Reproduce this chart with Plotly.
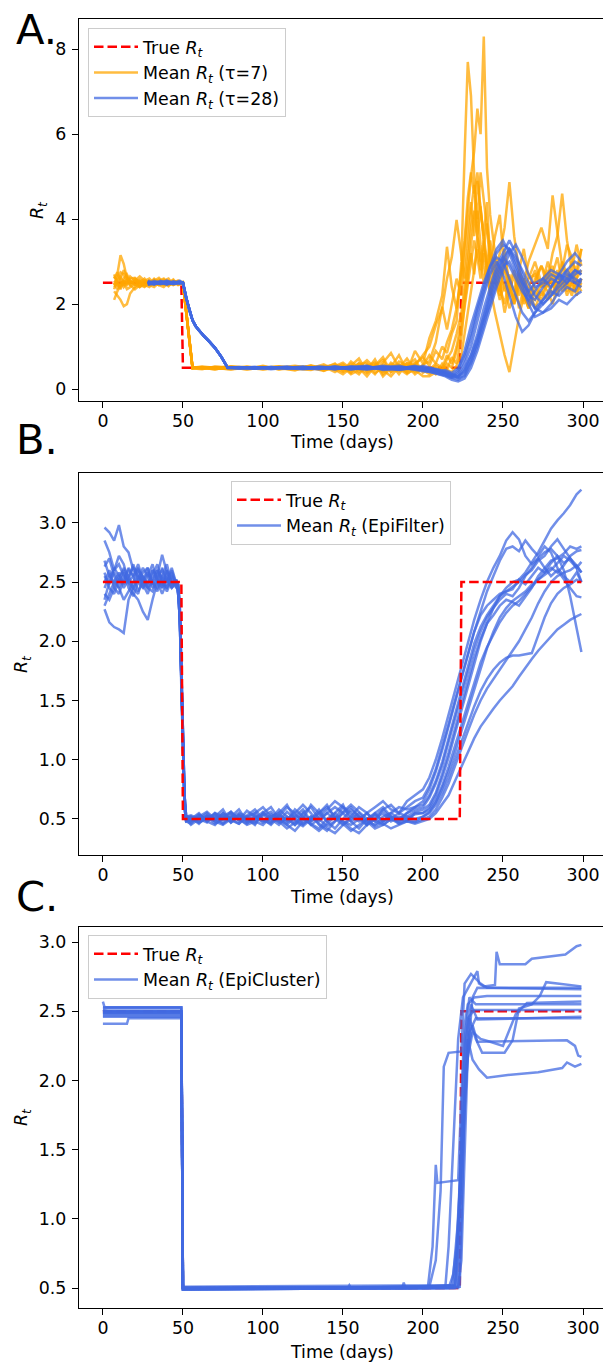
import plotly.graph_objects as go

# ---------------- data ----------------
TRUE_DAYS = [0, 49, 50, 223, 224, 299]
TRUE_RT = [2.5, 2.5, 0.5, 0.5, 2.5, 2.5]

# Panel A: tau = 7
TAU7_DAYS = [7, 9, 11, 13, 15, 17, 20, 23, 26, 29, 32, 35, 38, 41, 44, 47, 50,
             56,
             62, 70, 80, 90, 100, 110, 120, 130, 138, 145,
             150, 155, 160, 165, 170, 175, 180, 185, 190, 195, 200,
             204, 208, 212, 215, 218, 221, 224, 226, 228, 230, 232, 234, 236, 238, 240, 242,
             245, 248, 251, 254, 257, 260, 263, 266,
             270, 274, 278, 281, 284, 287, 290, 293, 296, 299]

TAU7_RUN1 = [2.45, 2.70, 3.15, 2.95, 2.60, 2.50, 2.55, 2.40, 2.48, 2.55, 2.50, 2.45, 2.52, 2.50, 2.55, 2.48, 2.50,
             0.50,
             0.52, 0.48, 0.50, 0.53, 0.47, 0.51, 0.55, 0.49, 0.58, 0.45,
             0.55, 0.38, 0.62, 0.45, 0.70, 0.35, 0.52, 0.80, 0.42, 0.60, 0.75,
             0.55, 0.90, 0.70, 1.10, 1.40, 1.90, 2.60, 3.40, 4.20, 5.00, 5.60, 6.60, 6.00, 8.30, 5.20, 4.10,
             3.20, 2.60, 3.30, 2.40, 2.10, 2.80, 2.30, 2.00,
             2.60, 2.90, 2.40, 2.70, 3.10, 2.50, 2.60, 2.80, 2.40, 2.60]
TAU7_RUN2 = [2.30, 2.20, 2.10, 1.95, 2.00, 2.25, 2.40, 2.55, 2.45, 2.40, 2.52, 2.58, 2.48, 2.45, 2.50, 2.52, 2.48,
             0.49,
             0.47, 0.53, 0.51, 0.46, 0.52, 0.50, 0.44, 0.56, 0.48, 0.60,
             0.42, 0.65, 0.50, 0.30, 0.55, 0.68, 0.40, 0.50, 0.72, 0.45, 0.55,
             0.80, 0.60, 1.00, 0.85, 1.30, 1.60, 3.00, 5.50, 7.70, 6.90, 5.00, 3.60, 3.00, 3.50, 2.80, 2.20,
             3.00, 2.50, 1.80, 2.30, 2.70, 1.90, 2.40, 2.20,
             2.10, 2.50, 2.30, 2.00, 2.40, 2.60, 2.20, 2.50, 2.30, 2.50]
TAU7_RUN3 = [2.10, 2.30, 2.45, 2.60, 2.70, 2.55, 2.45, 2.50, 2.60, 2.45, 2.40, 2.50, 2.55, 2.60, 2.45, 2.50, 2.52,
             0.51,
             0.50, 0.46, 0.54, 0.50, 0.52, 0.47, 0.53, 0.50, 0.43, 0.55,
             0.62, 0.48, 0.35, 0.58, 0.45, 0.62, 0.85, 0.50, 0.40, 0.90, 0.60,
             1.20, 1.60, 2.20, 3.35, 2.40, 1.90, 2.80, 3.50, 4.50, 5.10, 4.60, 5.10, 4.20, 3.60, 4.40, 3.00,
             2.60, 2.20, 3.10, 2.50, 2.80, 2.20, 2.60, 2.40,
             2.80, 2.40, 2.70, 2.90, 2.30, 2.60, 2.40, 2.70, 2.50, 2.30]
TAU7_RUN4 = [2.60, 2.75, 2.55, 2.40, 2.50, 2.65, 2.55, 2.45, 2.40, 2.50, 2.58, 2.45, 2.50, 2.42, 2.55, 2.50, 2.50,
             0.48,
             0.51, 0.49, 0.47, 0.52, 0.50, 0.54, 0.48, 0.45, 0.55, 0.50,
             0.48, 0.55, 0.72, 0.40, 0.60, 0.45, 0.58, 0.35, 0.62, 0.55, 0.80,
             1.00, 1.50, 1.90, 2.60, 3.10, 3.98, 3.20, 2.60, 3.30, 4.20, 4.80, 4.00, 5.10, 4.50, 3.80, 2.90,
             3.60, 4.10, 2.80, 2.30, 2.00, 2.60, 2.20, 1.90,
             2.40, 2.20, 2.60, 2.50, 2.80, 2.30, 2.50, 2.20, 2.60, 2.80]
TAU7_RUN5 = [2.55, 2.45, 2.60, 2.80, 2.65, 2.45, 2.35, 2.45, 2.55, 2.60, 2.48, 2.45, 2.40, 2.50, 2.52, 2.55, 2.50,
             0.50,
             0.49, 0.52, 0.50, 0.48, 0.55, 0.46, 0.50, 0.53, 0.50, 0.47,
             0.50, 0.40, 0.58, 0.62, 0.38, 0.50, 0.45, 0.65, 0.55, 0.35, 0.50,
             0.40, 0.55, 0.45, 0.70, 0.90, 1.30, 1.80, 2.40, 3.00, 3.80, 4.20, 3.60, 4.30, 3.40, 2.90, 3.50,
             2.70, 3.20, 3.80, 4.87, 3.60, 2.80, 3.30, 2.60,
             3.00, 2.50, 2.80, 2.40, 2.60, 3.00, 2.70, 2.50, 2.80, 2.70]
TAU7_RUN6 = [2.40, 2.50, 2.35, 2.55, 2.45, 2.60, 2.62, 2.50, 2.42, 2.50, 2.55, 2.62, 2.50, 2.48, 2.45, 2.50, 2.47,
             0.50,
             0.53, 0.50, 0.46, 0.51, 0.49, 0.52, 0.50, 0.47, 0.52, 0.58,
             0.45, 0.60, 0.40, 0.52, 0.35, 0.58, 0.48, 0.42, 0.55, 0.70, 0.38,
             0.50, 0.35, 0.60, 0.45, 0.75, 0.60, 1.20, 2.00, 2.60, 3.40, 4.00, 4.90, 4.20, 3.60, 3.00, 2.40,
             1.80, 1.30, 0.80, 0.40, 1.10, 1.70, 2.20, 1.90,
             2.30, 2.10, 2.50, 2.20, 2.70, 2.40, 2.60, 2.30, 2.50, 2.40]
TAU7_RUN7 = [2.65, 2.55, 2.65, 2.50, 2.35, 2.40, 2.50, 2.58, 2.52, 2.45, 2.50, 2.48, 2.58, 2.52, 2.50, 2.45, 2.50,
             0.52,
             0.48, 0.51, 0.53, 0.50, 0.46, 0.50, 0.52, 0.48, 0.47, 0.52,
             0.58, 0.45, 0.52, 0.68, 0.50, 0.40, 0.62, 0.48, 0.35, 0.52, 0.45,
             0.35, 0.50, 0.40, 0.60, 0.50, 0.90, 1.40, 1.90, 2.50, 2.90, 3.50, 3.10, 2.60, 3.20, 2.80, 2.50,
             3.10, 2.40, 2.00, 2.60, 2.30, 2.80, 2.50, 3.00,
             3.40, 3.80, 3.30, 4.56, 3.70, 2.90, 2.60, 3.00, 2.80, 3.30]
TAU7_RUN8 = [2.35, 2.60, 2.75, 2.70, 2.50, 2.55, 2.45, 2.40, 2.50, 2.55, 2.45, 2.52, 2.45, 2.55, 2.50, 2.50, 2.52,
             0.49,
             0.50, 0.47, 0.52, 0.49, 0.53, 0.48, 0.51, 0.55, 0.44, 0.50,
             0.40, 0.52, 0.60, 0.45, 0.55, 0.75, 0.40, 0.58, 0.48, 0.62, 0.42,
             0.45, 0.60, 0.50, 0.80, 0.60, 1.00, 1.60, 2.20, 2.80, 3.20, 2.70, 3.60, 3.00, 2.50, 3.00, 2.20,
             2.60, 2.90, 2.30, 2.70, 2.00, 2.40, 2.60, 2.20,
             2.50, 2.90, 2.60, 3.20, 3.60, 4.60, 3.50, 2.80, 3.40, 2.90]
TAU7_RUN9 = [2.50, 2.35, 2.50, 2.45, 2.60, 2.50, 2.60, 2.52, 2.45, 2.48, 2.60, 2.50, 2.45, 2.50, 2.58, 2.45, 2.50,
             0.50,
             0.51, 0.49, 0.50, 0.47, 0.50, 0.53, 0.49, 0.51, 0.53, 0.40,
             0.52, 0.35, 0.45, 0.55, 0.62, 0.30, 0.50, 0.58, 0.38, 0.45, 0.30,
             0.30, 0.40, 0.35, 0.45, 0.40, 0.55, 0.80, 1.30, 1.80, 2.30, 2.80, 3.30, 2.80, 3.40, 3.90, 3.20,
             2.60, 2.10, 2.50, 1.90, 2.20, 2.60, 2.00, 2.40,
             1.90, 2.30, 2.10, 2.50, 2.20, 2.60, 2.30, 2.50, 2.20, 2.60]
TAU7_RUN10 = [2.70, 2.50, 2.40, 2.55, 2.50, 2.45, 2.55, 2.65, 2.55, 2.50, 2.45, 2.55, 2.60, 2.45, 2.50, 2.55, 2.49,
              0.51,
              0.49, 0.50, 0.48, 0.52, 0.51, 0.49, 0.46, 0.52, 0.50, 0.46,
              0.35, 0.50, 0.48, 0.38, 0.52, 0.45, 0.30, 0.52, 0.60, 0.40, 0.58,
              0.65, 1.10, 1.94, 1.40, 2.00, 2.60, 2.20, 3.00, 3.80, 4.40, 3.60, 4.20, 3.40, 2.90, 2.50, 3.20,
              2.70, 2.30, 2.90, 2.40, 2.10, 2.70, 2.40, 2.60,
              2.70, 2.40, 3.00, 2.60, 2.40, 2.80, 3.40, 3.10, 2.60, 3.30]

# Panel A: tau = 28
TAU28_DAYS = [28, 32, 36, 40, 44, 48,
              50, 52, 54, 56, 58, 60, 63, 66, 70, 74, 77, 78,
              85, 95, 105, 115, 125, 135, 145, 155, 165, 175, 185, 195,
              200, 205, 210, 214, 218, 222, 226, 230, 234, 238, 242, 246, 250, 254, 258, 262,
              266, 270, 275, 280, 285, 290, 295, 299]
TAU28_DECAY = [2.50, 2.15, 1.85, 1.62, 1.48, 1.38, 1.25, 1.14, 0.97, 0.76, 0.55, 0.50]

TAU28_RUN1 = [2.50, 2.52, 2.48, 2.55, 2.50, 2.52] + TAU28_DECAY + [
    0.50, 0.52, 0.49, 0.51, 0.48, 0.53, 0.50, 0.47, 0.52, 0.49, 0.45, 0.52,
    0.48, 0.42, 0.38, 0.35, 0.30, 0.40, 0.70, 1.20, 1.80, 2.30, 2.80, 3.20, 3.40, 3.30, 3.00, 2.60,
    2.20, 2.10, 2.40, 2.60, 2.50, 2.70, 2.60, 2.50]
TAU28_RUN2 = [2.45, 2.48, 2.52, 2.50, 2.47, 2.50] + TAU28_DECAY + [
    0.49, 0.50, 0.52, 0.48, 0.50, 0.51, 0.47, 0.53, 0.49, 0.55, 0.50, 0.48,
    0.52, 0.45, 0.40, 0.38, 0.32, 0.28, 0.45, 0.80, 1.30, 1.90, 2.40, 2.90, 3.20, 3.50, 3.20, 2.70,
    2.30, 1.90, 2.10, 2.40, 2.70, 2.60, 2.80, 2.70]
TAU28_RUN3 = [2.55, 2.50, 2.47, 2.50, 2.53, 2.49] + TAU28_DECAY + [
    0.51, 0.48, 0.50, 0.52, 0.49, 0.47, 0.53, 0.50, 0.46, 0.51, 0.55, 0.47,
    0.45, 0.50, 0.42, 0.40, 0.35, 0.25, 0.30, 0.60, 1.00, 1.50, 2.10, 2.60, 3.00, 3.30, 3.10, 2.80,
    2.50, 2.20, 2.00, 2.20, 2.50, 2.80, 3.00, 2.90]
TAU28_RUN4 = [2.48, 2.55, 2.50, 2.46, 2.52, 2.50] + TAU28_DECAY + [
    0.50, 0.49, 0.51, 0.50, 0.53, 0.48, 0.50, 0.52, 0.55, 0.45, 0.48, 0.55,
    0.50, 0.48, 0.45, 0.38, 0.32, 0.45, 0.90, 1.50, 2.00, 2.50, 2.90, 3.10, 3.00, 2.60, 2.20, 1.80,
    1.60, 1.80, 2.10, 2.30, 2.20, 2.40, 2.30, 2.60]
TAU28_RUN5 = [2.52, 2.47, 2.53, 2.50, 2.48, 2.51] + TAU28_DECAY + [
    0.48, 0.51, 0.50, 0.49, 0.52, 0.50, 0.48, 0.51, 0.50, 0.53, 0.46, 0.50,
    0.55, 0.50, 0.45, 0.42, 0.36, 0.30, 0.40, 0.70, 1.10, 1.60, 2.00, 2.50, 2.90, 3.00, 2.70, 2.40,
    2.00, 1.70, 1.80, 2.00, 2.30, 2.50, 2.70, 2.80]
TAU28_RUN6 = [2.47, 2.50, 2.55, 2.48, 2.50, 2.53] + TAU28_DECAY + [
    0.52, 0.50, 0.48, 0.51, 0.50, 0.49, 0.52, 0.46, 0.50, 0.48, 0.52, 0.45,
    0.42, 0.40, 0.35, 0.30, 0.22, 0.18, 0.25, 0.50, 0.90, 1.40, 1.90, 2.40, 2.80, 3.20, 3.40, 3.10,
    2.70, 2.40, 2.50, 2.70, 2.60, 2.80, 2.50, 2.40]
TAU28_RUN7 = [2.53, 2.48, 2.50, 2.52, 2.49, 2.50] + TAU28_DECAY + [
    0.50, 0.52, 0.47, 0.50, 0.49, 0.52, 0.50, 0.49, 0.47, 0.50, 0.52, 0.50,
    0.47, 0.43, 0.40, 0.36, 0.28, 0.35, 0.60, 1.00, 1.60, 2.20, 2.70, 3.00, 2.70, 2.20, 1.70, 1.35,
    1.50, 1.80, 2.00, 2.20, 2.40, 2.60, 2.50, 2.60]
TAU28_RUN8 = [2.50, 2.46, 2.52, 2.55, 2.50, 2.48] + TAU28_DECAY + [
    0.49, 0.50, 0.50, 0.53, 0.48, 0.51, 0.49, 0.50, 0.54, 0.47, 0.50, 0.53,
    0.50, 0.46, 0.42, 0.45, 0.38, 0.50, 0.80, 1.30, 1.90, 2.40, 2.90, 3.30, 3.50, 3.20, 2.80, 2.50,
    2.30, 2.50, 2.60, 2.40, 2.70, 3.00, 3.20, 3.00]
TAU28_RUN9 = [2.49, 2.52, 2.50, 2.47, 2.53, 2.50] + TAU28_DECAY + [
    0.51, 0.49, 0.52, 0.50, 0.47, 0.50, 0.53, 0.48, 0.50, 0.52, 0.49, 0.47,
    0.44, 0.40, 0.36, 0.32, 0.26, 0.30, 0.50, 0.80, 1.20, 1.70, 2.20, 2.70, 3.10, 3.30, 2.90, 2.50,
    2.10, 1.90, 1.80, 1.90, 2.10, 2.00, 2.20, 2.30]
TAU28_RUN10 = [2.51, 2.50, 2.49, 2.52, 2.48, 2.55] + TAU28_DECAY + [
    0.50, 0.48, 0.51, 0.49, 0.51, 0.50, 0.47, 0.52, 0.49, 0.50, 0.46, 0.49,
    0.46, 0.44, 0.40, 0.33, 0.27, 0.22, 0.35, 0.65, 1.10, 1.70, 2.30, 2.80, 3.10, 2.90, 2.60, 2.30,
    2.10, 2.30, 2.60, 2.80, 2.70, 2.50, 2.80, 2.70]

# Panel B: EpiFilter
EPIF_DAYS = [1, 4, 7, 10, 13, 16, 19, 22, 25, 28, 31, 34, 37, 40, 43, 46,
             47, 48, 49, 50, 51, 52,
             55, 60, 65, 70, 75, 80, 85, 90, 95, 100, 105, 110, 115, 120, 125, 130, 135, 140,
             145, 150, 155, 160, 165, 170, 175, 180, 185, 190, 195,
             200, 204, 208, 212, 216, 220, 224, 228, 232, 236, 240, 244, 248, 252, 256, 260,
             264, 268, 272, 276, 280, 284, 288, 292, 296, 299]

EPIF_RUN1 = [2.96, 2.92, 2.85, 2.98, 2.80, 2.75, 2.60, 2.55, 2.50, 2.62, 2.48, 2.55, 2.45, 2.60, 2.50, 2.47,
             2.45, 2.25, 1.70, 1.05, 0.65, 0.50,
             0.50, 0.55, 0.48, 0.52, 0.58, 0.47, 0.53, 0.50, 0.45, 0.55, 0.60, 0.50, 0.45, 0.52, 0.58,
             0.48, 0.55, 0.62, 0.50, 0.45, 0.52, 0.60, 0.55, 0.48, 0.58, 0.62, 0.55, 0.65, 0.70,
             0.75, 0.85, 1.00, 1.18, 1.38, 1.58, 1.78, 1.98, 2.18, 2.35, 2.50, 2.62, 2.72, 2.85, 2.92, 2.86,
             2.72, 2.65, 2.70, 2.62, 2.55, 2.60, 2.52, 2.45, 2.38, 2.37]
EPIF_RUN2 = [2.27, 2.16, 2.12, 2.10, 2.07, 2.35, 2.45, 2.55, 2.48, 2.40, 2.52, 2.60, 2.50, 2.45, 2.55, 2.48,
             2.40, 2.20, 1.60, 0.98, 0.60, 0.48,
             0.48, 0.52, 0.56, 0.50, 0.46, 0.53, 0.49, 0.57, 0.52, 0.47, 0.50, 0.58, 0.52, 0.45, 0.50,
             0.62, 0.55, 0.48, 0.42, 0.50, 0.58, 0.52, 0.45, 0.55, 0.60, 0.52, 0.48, 0.55, 0.60,
             0.65, 0.75, 0.90, 1.08, 1.28, 1.48, 1.68, 1.88, 2.08, 2.25, 2.42, 2.55, 2.68, 2.78, 2.80, 2.76,
             2.85, 2.78, 2.72, 2.80, 2.75, 2.62, 2.55, 2.50, 2.58, 2.50]
EPIF_RUN3 = [2.63, 2.70, 2.55, 2.45, 2.58, 2.50, 2.40, 2.35, 2.25, 2.18, 2.35, 2.50, 2.62, 2.52, 2.45, 2.50,
             2.48, 2.30, 1.78, 1.12, 0.70, 0.52,
             0.52, 0.47, 0.50, 0.55, 0.49, 0.52, 0.58, 0.48, 0.53, 0.50, 0.45, 0.52, 0.60, 0.55, 0.46,
             0.50, 0.58, 0.48, 0.55, 0.62, 0.48, 0.42, 0.50, 0.55, 0.48, 0.52, 0.50, 0.48, 0.55,
             0.55, 0.60, 0.70, 0.85, 1.02, 1.22, 1.42, 1.62, 1.82, 2.00, 2.15, 2.28, 2.38, 2.45, 2.50, 2.52,
             2.58, 2.66, 2.75, 2.85, 2.95, 3.02, 3.08, 3.15, 3.24, 3.28]
EPIF_RUN4 = [2.45, 2.55, 2.60, 2.72, 2.65, 2.50, 2.55, 2.62, 2.50, 2.45, 2.60, 2.55, 2.73, 2.58, 2.50, 2.45,
             2.45, 2.25, 1.70, 1.05, 0.65, 0.50,
             0.45, 0.50, 0.53, 0.48, 0.55, 0.50, 0.46, 0.52, 0.55, 0.60, 0.52, 0.47, 0.50, 0.55, 0.62,
             0.55, 0.45, 0.40, 0.48, 0.55, 0.60, 0.52, 0.48, 0.45, 0.52, 0.55, 0.50, 0.55, 0.58,
             0.60, 0.68, 0.80, 0.95, 1.15, 1.35, 1.55, 1.75, 1.93, 2.08, 2.20, 2.28, 2.35, 2.40, 2.38, 2.45,
             2.55, 2.62, 2.70, 2.75, 2.78, 2.72, 2.60, 2.38, 2.10, 1.91]
EPIF_RUN5 = [2.30, 2.40, 2.50, 2.45, 2.35, 2.42, 2.50, 2.60, 2.55, 2.45, 2.50, 2.42, 2.55, 2.65, 2.48, 2.50,
             2.40, 2.20, 1.60, 0.98, 0.60, 0.48,
             0.50, 0.48, 0.52, 0.46, 0.50, 0.55, 0.50, 0.45, 0.48, 0.53, 0.56, 0.48, 0.42, 0.47, 0.52,
             0.45, 0.40, 0.46, 0.52, 0.48, 0.42, 0.38, 0.45, 0.50, 0.46, 0.42, 0.45, 0.48, 0.46,
             0.48, 0.50, 0.55, 0.62, 0.70, 0.82, 0.94, 1.06, 1.18, 1.28, 1.36, 1.43, 1.50, 1.56, 1.62, 1.70,
             1.78, 1.85, 1.92, 1.98, 2.04, 2.10, 2.14, 2.18, 2.21, 2.23]
EPIF_RUN6 = [2.55, 2.48, 2.62, 2.55, 2.45, 2.52, 2.65, 2.50, 2.58, 2.62, 2.45, 2.50, 2.40, 2.50, 2.60, 2.47,
             2.48, 2.30, 1.78, 1.12, 0.70, 0.52,
             0.53, 0.50, 0.47, 0.55, 0.52, 0.48, 0.54, 0.47, 0.50, 0.56, 0.50, 0.45, 0.52, 0.48, 0.44,
             0.50, 0.55, 0.60, 0.52, 0.46, 0.40, 0.45, 0.50, 0.44, 0.48, 0.52, 0.46, 0.50, 0.48,
             0.52, 0.55, 0.62, 0.72, 0.85, 1.00, 1.15, 1.30, 1.45, 1.58, 1.68, 1.76, 1.82, 1.86, 1.88, 1.88,
             1.89, 1.90, 2.05, 2.20, 2.32, 2.40, 2.45, 2.48, 2.52, 2.50]
EPIF_RUN7 = [2.85, 2.75, 2.60, 2.65, 2.55, 2.50, 2.45, 2.52, 2.62, 2.55, 2.50, 2.60, 2.52, 2.45, 2.55, 2.50,
             2.45, 2.25, 1.70, 1.05, 0.65, 0.50,
             0.47, 0.52, 0.50, 0.54, 0.46, 0.51, 0.55, 0.52, 0.48, 0.45, 0.52, 0.55, 0.48, 0.58, 0.52,
             0.45, 0.50, 0.55, 0.60, 0.55, 0.48, 0.52, 0.46, 0.52, 0.58, 0.50, 0.55, 0.52, 0.56,
             0.58, 0.62, 0.72, 0.88, 1.06, 1.26, 1.46, 1.66, 1.86, 2.02, 2.15, 2.22, 2.30, 2.35, 2.33, 2.30,
             2.38, 2.45, 2.55, 2.62, 2.68, 2.70, 2.74, 2.80, 2.78, 2.80]
EPIF_RUN8 = [2.40, 2.35, 2.45, 2.55, 2.60, 2.45, 2.38, 2.50, 2.45, 2.55, 2.65, 2.50, 2.48, 2.60, 2.45, 2.52,
             2.40, 2.20, 1.60, 0.98, 0.60, 0.48,
             0.51, 0.46, 0.53, 0.50, 0.55, 0.49, 0.46, 0.53, 0.58, 0.50, 0.47, 0.53, 0.50, 0.45, 0.55,
             0.60, 0.50, 0.44, 0.48, 0.56, 0.62, 0.56, 0.50, 0.54, 0.48, 0.55, 0.60, 0.58, 0.60,
             0.62, 0.70, 0.82, 0.98, 1.18, 1.40, 1.60, 1.80, 1.98, 2.12, 2.22, 2.30, 2.38, 2.42, 2.44, 2.52,
             2.48, 2.55, 2.62, 2.58, 2.66, 2.72, 2.66, 2.70, 2.62, 2.67]
EPIF_RUN9 = [2.50, 2.60, 2.45, 2.40, 2.52, 2.60, 2.55, 2.42, 2.50, 2.58, 2.50, 2.45, 2.55, 2.50, 2.62, 2.48,
             2.48, 2.30, 1.78, 1.12, 0.70, 0.52,
             0.49, 0.54, 0.48, 0.45, 0.52, 0.56, 0.50, 0.46, 0.52, 0.48, 0.54, 0.50, 0.45, 0.40, 0.48,
             0.52, 0.46, 0.42, 0.38, 0.45, 0.50, 0.55, 0.48, 0.42, 0.45, 0.50, 0.46, 0.48, 0.47,
             0.50, 0.52, 0.58, 0.68, 0.80, 0.95, 1.10, 1.24, 1.38, 1.50, 1.60, 1.68, 1.76, 1.84, 1.92, 2.00,
             2.10, 2.20, 2.32, 2.42, 2.50, 2.55, 2.58, 2.60, 2.64, 2.58]
EPIF_RUN10 = [2.68, 2.55, 2.50, 2.58, 2.48, 2.55, 2.62, 2.58, 2.45, 2.50, 2.55, 2.65, 2.50, 2.42, 2.52, 2.50,
              2.45, 2.25, 1.70, 1.05, 0.65, 0.50,
              0.52, 0.50, 0.55, 0.49, 0.53, 0.47, 0.52, 0.50, 0.46, 0.55, 0.50, 0.48, 0.56, 0.50, 0.45,
              0.52, 0.48, 0.55, 0.50, 0.60, 0.55, 0.50, 0.45, 0.50, 0.55, 0.48, 0.52, 0.50, 0.54,
              0.55, 0.58, 0.66, 0.78, 0.94, 1.12, 1.30, 1.48, 1.66, 1.82, 1.95, 2.06, 2.16, 2.24, 2.30, 2.34,
              2.40, 2.46, 2.52, 2.58, 2.62, 2.58, 2.64, 2.72, 2.76, 2.77]
EPIF_RUN11 = [2.35, 2.50, 2.58, 2.50, 2.62, 2.55, 2.45, 2.40, 2.55, 2.48, 2.60, 2.52, 2.45, 2.55, 2.45, 2.52,
              2.40, 2.20, 1.60, 0.98, 0.60, 0.48,
              0.46, 0.53, 0.49, 0.52, 0.50, 0.56, 0.48, 0.51, 0.55, 0.49, 0.46, 0.55, 0.62, 0.50, 0.55,
              0.48, 0.52, 0.58, 0.65, 0.60, 0.52, 0.48, 0.55, 0.60, 0.65, 0.58, 0.55, 0.60, 0.65,
              0.68, 0.78, 0.92, 1.10, 1.30, 1.50, 1.70, 1.90, 2.08, 2.22, 2.30, 2.35, 2.40, 2.42, 2.46, 2.50,
              2.56, 2.60, 2.68, 2.72, 2.80, 2.86, 2.78, 2.70, 2.64, 2.58]
EPIF_RUN12 = [2.58, 2.45, 2.40, 2.52, 2.50, 2.62, 2.55, 2.65, 2.52, 2.45, 2.42, 2.55, 2.60, 2.50, 2.58, 2.45,
              2.48, 2.30, 1.78, 1.12, 0.70, 0.52,
              0.50, 0.47, 0.52, 0.48, 0.45, 0.50, 0.53, 0.48, 0.50, 0.54, 0.48, 0.52, 0.47, 0.53, 0.50,
              0.46, 0.42, 0.50, 0.55, 0.48, 0.45, 0.50, 0.55, 0.48, 0.45, 0.50, 0.48, 0.52, 0.50,
              0.52, 0.56, 0.64, 0.76, 0.90, 1.06, 1.24, 1.42, 1.60, 1.78, 1.94, 2.08, 2.20, 2.28, 2.34, 2.38,
              2.42, 2.48, 2.52, 2.56, 2.60, 2.66, 2.72, 2.68, 2.62, 2.50]

# Panel C: EpiCluster (piecewise-constant runs: change days and values)
EPIC_RUN1_DAYS = [0, 3, 49, 50, 120, 214, 216, 219, 222, 225, 230, 234, 235, 238, 245, 246, 248, 264, 268, 289, 296, 299]
EPIC_RUN1 = [2.51, 2.50, 2.50, 0.50, 0.50, 0.51, 0.80, 1.60, 2.30, 2.60, 2.70, 2.79, 2.70, 2.68, 2.69, 2.93, 2.84, 2.84, 2.88, 2.91, 2.97, 2.98]
EPIC_RUN2_DAYS = [0, 49, 50, 203, 206, 208, 209, 222, 224, 226, 228, 232, 240, 299]
EPIC_RUN2 = [2.47, 2.47, 0.49, 0.50, 0.80, 1.39, 1.26, 1.28, 1.90, 2.40, 2.55, 2.60, 2.61, 2.61]
EPIC_RUN3_DAYS = [0, 49, 50, 204, 208, 211, 213, 216, 224, 226, 230, 236, 240, 299]
EPIC_RUN3 = [2.53, 2.53, 0.50, 0.51, 0.70, 1.20, 2.10, 2.20, 2.21, 2.70, 2.77, 2.70, 2.67, 2.67]
EPIC_RUN4_DAYS = [0, 49, 50, 216, 219, 222, 225, 228, 231, 235, 240, 246, 253, 272, 287, 290, 295, 299]
EPIC_RUN4 = [2.46, 2.46, 0.50, 0.50, 0.60, 1.00, 1.70, 2.30, 2.15, 2.08, 2.02, 2.03, 2.04, 2.06, 2.09, 2.13, 2.10, 2.12]
EPIC_RUN5_DAYS = [0, 49, 50, 219, 222, 225, 228, 231, 234, 290, 295, 297, 299]
EPIC_RUN5 = [2.49, 2.49, 0.49, 0.50, 0.90, 1.60, 2.20, 2.40, 2.28, 2.29, 2.25, 2.18, 2.17]
EPIC_RUN6_DAYS = [0, 49, 50, 220, 223, 226, 229, 233, 237, 251, 256, 260, 268, 273, 277, 285, 299]
EPIC_RUN6 = [2.50, 2.50, 0.51, 0.52, 1.10, 1.90, 2.45, 2.30, 2.20, 2.20, 2.29, 2.52, 2.55, 2.61, 2.71, 2.70, 2.68]
EPIC_RUN7_DAYS = [0, 49, 50, 153, 154, 155, 221, 223, 225, 228, 232, 299]
EPIC_RUN7 = [2.50, 2.50, 0.50, 0.50, 0.52, 0.50, 0.52, 1.20, 2.00, 2.45, 2.51, 2.51]
EPIC_RUN8_DAYS = [0, 15, 16, 49, 50, 222, 224, 226, 229, 233, 299]
EPIC_RUN8 = [2.41, 2.41, 2.45, 2.45, 0.49, 0.50, 1.00, 1.80, 2.35, 2.45, 2.45]
EPIC_RUN9_DAYS = [0, 49, 50, 187, 188, 189, 218, 221, 224, 227, 231, 236, 242, 250, 258, 265, 299]
EPIC_RUN9 = [2.48, 2.48, 0.50, 0.50, 0.54, 0.50, 0.52, 0.80, 1.50, 2.10, 2.35, 2.30, 2.28, 2.25, 2.48, 2.56, 2.57]
EPIC_RUN10_DAYS = [0, 49, 50, 222, 224, 226, 228, 231, 234, 299]
EPIC_RUN10 = [2.52, 2.52, 0.50, 0.51, 0.70, 1.50, 2.20, 2.60, 2.67, 2.66]
EPIC_RUN11_DAYS = [0, 1, 49, 50, 223, 225, 227, 230, 234, 299]
EPIC_RUN11 = [2.57, 2.53, 2.53, 0.50, 0.51, 1.40, 2.30, 2.55, 2.44, 2.46]
EPIC_RUN12_DAYS = [0, 49, 50, 220, 222, 224, 226, 229, 233, 299]
EPIC_RUN12 = [2.49, 2.49, 0.49, 0.50, 0.75, 1.50, 2.30, 2.60, 2.55, 2.55]

X_TICKS = [0, 50, 100, 150, 200, 250, 300]

# ---------------- figure ----------------
W, H = 603, 1363
FONT = "DejaVu Sans"
FS = 17.4
ORANGE = "rgba(255,165,0,0.75)"
BLUE = "rgba(65,105,225,0.75)"
RED = "#ff0000"
LW = 2.5
DASH = "9.5px,4px"

fig = go.Figure()


def add(x, y, color, ax, legend, name=None, show=False, dash=None, rank=10):
    fig.add_trace(go.Scatter(
        x=x, y=y, mode="lines",
        line=dict(color=color, width=LW, dash=dash),
        name=name, showlegend=show, legend=legend,
        legendrank=rank, xaxis="x" + ax, yaxis="y" + ax, hoverinfo="skip"))


# Panel A
add(TRUE_DAYS, TRUE_RT, RED, "", "legend", "True <i>R<sub>t</sub></i>", True, DASH, 1)
for i, run in enumerate([TAU7_RUN1, TAU7_RUN2, TAU7_RUN3, TAU7_RUN4, TAU7_RUN5,
                         TAU7_RUN6, TAU7_RUN7, TAU7_RUN8, TAU7_RUN9, TAU7_RUN10]):
    add(TAU7_DAYS, run, ORANGE, "", "legend", "Mean <i>R<sub>t</sub></i> (τ=7)", i == 0, None, 2)
for i, run in enumerate([TAU28_RUN1, TAU28_RUN2, TAU28_RUN3, TAU28_RUN4, TAU28_RUN5,
                         TAU28_RUN6, TAU28_RUN7, TAU28_RUN8, TAU28_RUN9, TAU28_RUN10]):
    add(TAU28_DAYS, run, BLUE, "", "legend", "Mean <i>R<sub>t</sub></i> (τ=28)", i == 0, None, 3)

# Panel B
for i, run in enumerate([EPIF_RUN1, EPIF_RUN2, EPIF_RUN3, EPIF_RUN4, EPIF_RUN5, EPIF_RUN6,
                         EPIF_RUN7, EPIF_RUN8, EPIF_RUN9, EPIF_RUN10, EPIF_RUN11, EPIF_RUN12]):
    add(EPIF_DAYS, run, BLUE, "2", "legend2", "Mean <i>R<sub>t</sub></i> (EpiFilter)", i == 0, None, 2)
add(TRUE_DAYS, TRUE_RT, RED, "2", "legend2", "True <i>R<sub>t</sub></i>", True, DASH, 1)

# Panel C
add(TRUE_DAYS, TRUE_RT, RED, "3", "legend3", "True <i>R<sub>t</sub></i>", True, DASH, 1)
C_RUNS = [(EPIC_RUN1_DAYS, EPIC_RUN1), (EPIC_RUN2_DAYS, EPIC_RUN2), (EPIC_RUN3_DAYS, EPIC_RUN3),
          (EPIC_RUN4_DAYS, EPIC_RUN4), (EPIC_RUN5_DAYS, EPIC_RUN5), (EPIC_RUN6_DAYS, EPIC_RUN6),
          (EPIC_RUN7_DAYS, EPIC_RUN7), (EPIC_RUN8_DAYS, EPIC_RUN8), (EPIC_RUN9_DAYS, EPIC_RUN9),
          (EPIC_RUN10_DAYS, EPIC_RUN10), (EPIC_RUN11_DAYS, EPIC_RUN11), (EPIC_RUN12_DAYS, EPIC_RUN12)]
for i, (d, v) in enumerate(C_RUNS):
    add(d, v, BLUE, "3", "legend3", "Mean <i>R<sub>t</sub></i> (EpiCluster)", i == 0, None, 2)


def py(p):
    return 1 - p / H


tickfont = dict(family=FONT, size=FS, color="black")
xax = dict(range=[-14.95, 312.5], tickvals=X_TICKS, domain=[79 / W, 1.0], automargin=False,
           showline=True, linecolor="black", linewidth=1.3, mirror=True,
           ticks="outside", ticklen=6, tickwidth=1.3, tickcolor="black",
           showgrid=False, zeroline=False, tickfont=tickfont, ticklabelstandoff=-2)
yax = dict(showline=True, linecolor="black", linewidth=1.3, mirror=True, automargin=False,
           ticks="outside", ticklen=6, tickwidth=1.3, tickcolor="black",
           showgrid=False, zeroline=False, tickfont=tickfont, ticklabelstandoff=2)

legend_style = dict(bgcolor="rgba(255,255,255,0.8)", bordercolor="#cccccc", borderwidth=1,
                    font=dict(family=FONT, size=FS, color="black"), itemwidth=44,
                    xanchor="left", yanchor="top")

fig.update_layout(
    width=W, height=H, margin=dict(l=0, r=0, t=0, b=0, autoexpand=False),
    paper_bgcolor="white", plot_bgcolor="white",
    font=dict(family=FONT, size=FS, color="black"),
    xaxis=dict(xax, anchor="y"),
    yaxis=dict(yax, anchor="x", domain=[py(401), py(19)], range=[-0.28, 8.71], tickvals=[0, 2, 4, 6, 8]),
    xaxis2=dict(xax, anchor="y2"),
    yaxis2=dict(yax, anchor="x2", domain=[py(855), py(473)], range=[0.196, 3.42],
                tickvals=[0.5, 1.0, 1.5, 2.0, 2.5, 3.0], tickformat=".1f"),
    xaxis3=dict(xax, anchor="y3"),
    yaxis3=dict(yax, anchor="x3", domain=[py(1308), py(927)], range=[0.356, 3.109],
                tickvals=[0.5, 1.0, 1.5, 2.0, 2.5, 3.0], tickformat=".1f"),
    legend=dict(legend_style, x=88 / W, y=py(28)),
    legend2=dict(legend_style, x=341 / W, y=py(481), xanchor="center"),
    legend3=dict(legend_style, x=88 / W, y=py(935)),
    hovermode=False,
)

ann = []
for label, yc in [("A.", 30), ("B.", 440), ("C.", 896)]:
    ann.append(dict(text=label, x=14 / W, y=py(yc), xref="paper", yref="paper",
                    xanchor="left", yanchor="middle", showarrow=False,
                    font=dict(family=FONT, size=41.7, color="black")))
for yc in [442, 897, 1352]:
    ann.append(dict(text="Time (days)", x=342 / W, y=py(yc), xref="paper", yref="paper",
                    xanchor="center", yanchor="middle", showarrow=False,
                    font=dict(family=FONT, size=FS, color="black")))
for xc, yc in [(38, 210), (22, 664), (22, 1117)]:
    ann.append(dict(text="<i>R<sub>t</sub></i>", x=xc / W, y=py(yc), xref="paper", yref="paper",
                    xanchor="center", yanchor="middle", textangle=-90, showarrow=False,
                    font=dict(family=FONT, size=FS, color="black")))
fig.update_layout(annotations=ann)

fig.write_html("out.html", config={"displayModeBar": False},
               post_script="document.body.style.margin='0';document.body.style.overflow='hidden';")
